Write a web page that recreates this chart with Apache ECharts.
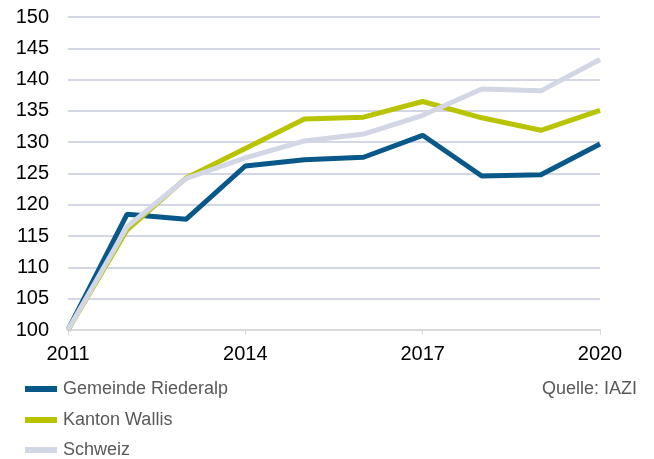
<!DOCTYPE html>
<html>
<head>
<meta charset="utf-8">
<script src="https://cdn.jsdelivr.net/npm/echarts@6/dist/echarts.min.js"></script>
<style>
  html, body { margin: 0; padding: 0; background: #fff; }
  #chart { width: 654px; height: 459px; }
</style>
</head>
<body>
<div id="chart"></div>
<script>
// Jahre
var years = ['2011', '2012', '2013', '2014', '2015', '2016', '2017', '2018', '2019', '2020']

// Index 2011 = 100
var riederalp = [100, 118.5, 117.7, 126.2, 127.2, 127.6, 131.1, 124.6, 124.8, 129.7]
var wallis = [100, 116.0, 124.3, 129.0, 133.7, 134.0, 136.5, 133.9, 131.9, 135.1]
var schweiz = [100, 116.5, 124.2, 127.5, 130.2, 131.3, 134.3, 138.5, 138.2, 143.2]

var names = ['Gemeinde Riederalp', 'Kanton Wallis', 'Schweiz']
var colors = ['#08598a', '#b9c400', '#d3d6e4']
var font = 'Liberation Sans, Arial, sans-serif'

var chart = echarts.init(document.getElementById('chart'), null, {renderer: 'canvas'})

// eine Legende pro Zeile, damit nichts umbricht
function legendAt (name, top) {
  return {
    orient: 'vertical',
    left: 25,
    top: top,
    padding: 0,
    itemWidth: 32,
    itemHeight: 6,
    icon: 'rect',
    textStyle: {
      fontFamily: font,
      fontSize: 18,
      color: '#595959',
      padding: [0, 0, 0, 1]
    },
    data: [name]
  }
}

var option = {
  animation: false,
  color: colors,
  grid: {
    left: 68,
    right: 54,
    top: 17,
    bottom: 129
  },
  legend: [
    legendAt(names[0], 380),
    legendAt(names[1], 411),
    legendAt(names[2], 441)
  ],
  graphic: [
    {
      type: 'text',
      right: 17,
      top: 380,
      style: {
        text: 'Quelle: IAZI',
        fontFamily: font,
        fontSize: 18,
        fill: '#595959'
      }
    }
  ],
  xAxis: {
    type: 'category',
    boundaryGap: false,
    data: years,
    axisLine: { lineStyle: { color: '#d9d9d9', width: 2 } },
    axisTick: {
      interval: 2,
      length: 5,
      lineStyle: { color: '#d9d9d9', width: 1 }
    },
    axisLabel: {
      interval: 2,
      margin: 14,
      fontFamily: font,
      fontSize: 20,
      color: '#000'
    }
  },
  yAxis: {
    type: 'value',
    min: 100,
    max: 150,
    interval: 5,
    axisLine: { show: false },
    axisTick: { show: false },
    axisLabel: {
      margin: 19,
      fontFamily: font,
      fontSize: 20,
      color: '#000'
    },
    splitLine: { lineStyle: { color: '#d3d6e4', width: 2 } }
  },
  series: [
    {
      name: names[0],
      type: 'line',
      data: riederalp,
      showSymbol: false,
      lineStyle: { width: 5 }
    },
    {
      name: names[1],
      type: 'line',
      data: wallis,
      showSymbol: false,
      lineStyle: { width: 5 }
    },
    {
      name: names[2],
      type: 'line',
      data: schweiz,
      showSymbol: false,
      lineStyle: { width: 5 }
    }
  ]
}

chart.setOption(option)
</script>
</body>
</html>
